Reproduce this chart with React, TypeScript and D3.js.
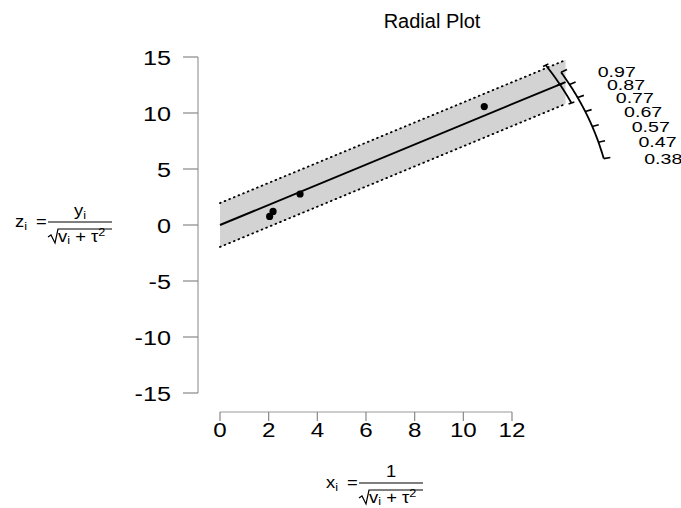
import React from "react";
import * as d3 from "d3";

// ---- data ----
const xTicks = [0, 2, 4, 6, 8, 10, 12];
const yTicks = [-15, -10, -5, 0, 5, 10, 15];
const pointX = [10.86, 3.29, 2.18, 2.04];
const pointZ = [10.57, 2.77, 1.21, 0.767];
const estimate = 0.899;
const ciBounds = [0.754, 1.066];
const zCrit = 1.96;
const arcTickValues = [0.973, 0.8735, 0.774, 0.6745, 0.575, 0.4755, 0.376];
const arcTickLabels = ["0.97", "0.87", "0.77", "0.67", "0.57", "0.47", "0.38"];
const titleText = "Radial Plot";

// ---- layout constants ----
const W = 681;
const H = 508;
const xAxisMax = 14.2;
const aspRat = 1.7;
const arcLen = 16.15;
const arcTickLen = 0.28;
const arcLabelLen = 17.6;
const ciLen = 15.8;
const ciTickHalf = 0.13;
const FONT = "'Liberation Sans', Arial, Helvetica, sans-serif";

const x = d3.scaleLinear().domain([0, 12]).range([220, 512]);
const y = d3.scaleLinear().domain([-15, 15]).range([393, 57]);

const arcPt = (len: number, v: number) => {
  const xi = Math.sqrt((len * len) / (1 + (v / aspRat) ** 2));
  return [xi, xi * v];
};

const arcPath = (len: number, lo: number, hi: number) => {
  const vals = d3.range(0, 101).map((i) => lo + ((hi - lo) * i) / 100);
  const line = d3
    .line<number>()
    .x((v) => x(arcPt(len, v)[0]))
    .y((v) => y(arcPt(len, v)[1]));
  return line(vals) || "";
};

function SText({ x0, y0, sx, children, ...rest }: any) {
  return (
    <text transform={`translate(${x0},${y0}) scale(${sx},1)`} x={0} y={0} {...rest}>
      {children}
    </text>
  );
}

function FracLabel({ ox, barY, lhs, num }: { ox: number; barY: number; lhs: string; num: React.ReactNode }) {
  const fs = 16;
  const sfs = 11;
  return (
    <g fontFamily={FONT} fill="#000">
      <SText x0={ox} y0={barY + 5} sx={1.15} fontSize={fs}>
        {lhs}
        <tspan fontSize={sfs} dy={3}>i</tspan>
      </SText>
      <SText x0={ox + 21} y0={barY + 5} sx={1.15} fontSize={fs}>=</SText>
      <line x1={ox + 33} x2={ox + 97} y1={barY} y2={barY} stroke="#000" strokeWidth={1.2} />
      <SText x0={ox + 65} y0={barY - 6} sx={1.15} fontSize={fs} textAnchor="middle">{num}</SText>
      <path
        d={`M${ox + 33},${barY + 15} L${ox + 36},${barY + 13} L${ox + 40},${barY + 21} L${ox + 43},${barY + 7} L${ox + 97},${barY + 7}`}
        fill="none"
        stroke="#000"
        strokeWidth={1.2}
      />
      <SText x0={ox + 43} y0={barY + 20} sx={1.15} fontSize={fs}>
        v<tspan fontSize={sfs} dy={2}>i</tspan>
        <tspan dy={-2}> + τ</tspan>
        <tspan fontSize={sfs} dy={-6}>2</tspan>
      </SText>
    </g>
  );
}

export default function App() {
  const poly = [
    [0, zCrit],
    [xAxisMax, zCrit + xAxisMax * estimate],
    [xAxisMax, -zCrit + xAxisMax * estimate],
    [0, -zCrit],
  ]
    .map((p) => `${x(p[0])},${y(p[1])}`)
    .join(" ");

  const yiAll = pointX.map((xx, i) => pointZ[i] / xx);
  const [yMin, yMax] = d3.extent(yiAll) as [number, number];

  return (
    <svg
      width={W}
      height={H}
      style={{ position: "absolute", left: 0, top: 0, background: "#fff" }}
      fontFamily={FONT}
    >
      <rect x={0} y={0} width={W} height={H} fill="#fff" />
      {/* title */}
      <text x={432} y={28} fontSize={20} textAnchor="middle">{titleText}</text>

      {/* band */}
      <polygon points={poly} fill="#d3d3d3" stroke="none" />
      <line
        x1={x(0)} y1={y(zCrit)} x2={x(xAxisMax)} y2={y(zCrit + xAxisMax * estimate)}
        stroke="#000" strokeWidth={1.8} strokeDasharray="0.8 4.2" strokeLinecap="round"
      />
      <line
        x1={x(0)} y1={y(-zCrit)} x2={x(xAxisMax)} y2={y(-zCrit + xAxisMax * estimate)}
        stroke="#000" strokeWidth={1.8} strokeDasharray="0.8 4.2" strokeLinecap="round"
      />
      <line
        x1={x(0)} y1={y(0)} x2={x(xAxisMax)} y2={y(xAxisMax * estimate)}
        stroke="#000" strokeWidth={1.9}
      />

      {/* points */}
      {pointX.map((px, i) => (
        <circle key={i} cx={x(px)} cy={y(pointZ[i])} r={3.6} fill="#000" />
      ))}

      {/* y axis */}
      <line x1={198} x2={198} y1={y(-15)} y2={y(15)} stroke="#999" strokeWidth={1.2} />
      {yTicks.map((t) => (
        <g key={t}>
          <line x1={183} x2={198} y1={y(t)} y2={y(t)} stroke="#888" strokeWidth={1.2} />
          <SText x0={171} y0={y(t)} sx={1.2} dy="0.36em" fontSize={21} textAnchor="end">{t}</SText>
        </g>
      ))}

      {/* x axis */}
      <line x1={x(0)} x2={x(12)} y1={412} y2={412} stroke="#999" strokeWidth={1.2} />
      {xTicks.map((t) => (
        <g key={t}>
          <line x1={x(t)} x2={x(t)} y1={412} y2={421} stroke="#888" strokeWidth={1.2} />
          <SText x0={x(t)} y0={437} sx={1.15} fontSize={21} textAnchor="middle">{t}</SText>
        </g>
      ))}

      {/* labelled arc */}
      <path d={arcPath(arcLen, yMin, yMax)} fill="none" stroke="#000" strokeWidth={1.8} />
      {arcTickValues.map((v, i) => {
        const a = arcPt(arcLen, v);
        const b = arcPt(arcLen + arcTickLen, v);
        const lab = arcPt(arcLabelLen, v);
        return (
          <g key={i}>
            <line x1={x(a[0])} y1={y(a[1])} x2={x(b[0])} y2={y(b[1])} stroke="#000" strokeWidth={1.6} />
            <SText x0={x(lab[0]) + 6} y0={y(a[1])} sx={1.4} dy="0.36em" fontSize={14}>{arcTickLabels[i]}</SText>
          </g>
        );
      })}

      {/* CI arc */}
      <path d={arcPath(ciLen, ciBounds[0], ciBounds[1])} fill="none" stroke="#000" strokeWidth={1.8} />
      {[ciBounds[0], estimate, ciBounds[1]].map((v, i) => {
        const a = arcPt(ciLen - ciTickHalf, v);
        const b = arcPt(ciLen + ciTickHalf, v);
        return <line key={i} x1={x(a[0])} y1={y(a[1])} x2={x(b[0])} y2={y(b[1])} stroke="#000" strokeWidth={1.6} />;
      })}

      {/* axis titles */}
      <FracLabel ox={15} barY={222} lhs="z" num={<>y<tspan fontSize={11} dy={3}>i</tspan></>} />
      <FracLabel ox={326} barY={483} lhs="x" num="1" />
    </svg>
  );
}
